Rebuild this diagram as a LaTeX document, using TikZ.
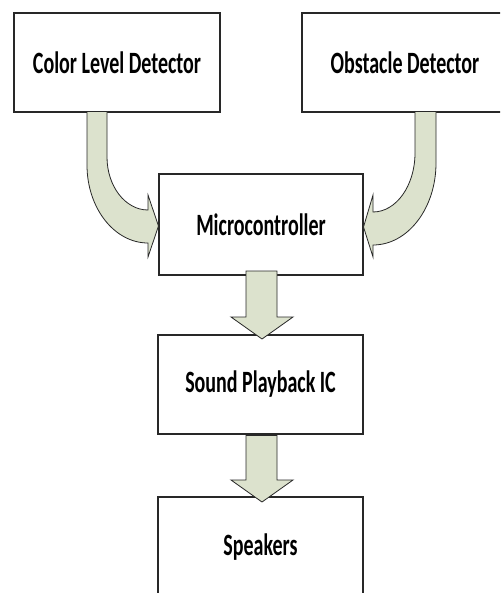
\documentclass[tikz,border=0pt]{standalone}
\usepackage{fontspec}
\setmainfont{Carlito}
\usepackage{graphicx}
\definecolor{arrowfill}{RGB}{220,226,205}
\definecolor{boxline}{RGB}{40,40,40}
\newcommand{\blocklabel}[1]{\scalebox{1}[1.55]{\bfseries #1}}
\begin{document}
\begin{tikzpicture}[x=1pt,y=-1pt,
  block/.style={draw=boxline,line width=1.3pt,fill=white,minimum width=205pt,
    minimum height=100pt,inner sep=0pt,font=\fontsize{20}{24}\selectfont},
  blockarrow/.style={draw=boxline,line width=0.8pt,fill=arrowfill,line join=miter}]
\useasboundingbox (0,0) rectangle (500,593);
\clip (0,0) rectangle (500,593);
\fill[white] (0,0) rectangle (500,593);

% blocks
\node[block,minimum width=206pt,minimum height=99pt] (cld) at (117,62.5) {\blocklabel{Color Level Detector}};
\node[block,minimum width=206pt,minimum height=99pt] (obs) at (405,62.5) {\blocklabel{Obstacle Detector}};
\node[block,minimum width=204pt,minimum height=101pt] (mcu) at (261,224.5) {\blocklabel{Microcontroller}};
\node[block,minimum width=205pt,minimum height=99pt] (spic) at (260.5,384.5) {\blocklabel{Sound Playback IC}};
\node[block,minimum width=205pt,minimum height=100pt] (spk) at (260.5,547) {\blocklabel{Speakers}};

% curved arrow: colour detector into microcontroller
\draw[blockarrow] (87,111.5) -- (87,165)
  .. controls (87,208) and (114.3,243) .. (148,243)
  -- (148,257) -- (158.5,226) -- (148,195) -- (148,210)
  .. controls (125.4,210) and (107,186.3) .. (107,157)
  -- (107,111.5) -- cycle;

% curved arrow: obstacle detector into microcontroller
\draw[blockarrow] (436,111.5) -- (436,163)
  .. controls (436,208.3) and (407.8,245) .. (373,245)
  -- (373,257) -- (363.5,227) -- (373,195) -- (373,212)
  .. controls (396.2,212) and (415,185.6) .. (415,153)
  -- (415,111.5) -- cycle;

% straight arrows down the chain
\draw[blockarrow] (246,271) -- (277,271) -- (277,317) -- (293,317)
  -- (262,339) -- (231,317) -- (246,317) -- cycle;
\draw[blockarrow] (246,435.5) -- (277,435.5) -- (277,480) -- (293,480)
  -- (262,502) -- (231,480) -- (246,480) -- cycle;
\end{tikzpicture}
\end{document}
